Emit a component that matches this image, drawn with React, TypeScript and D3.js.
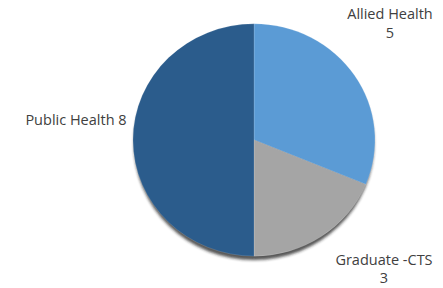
import React from "react";
import { pie, arc, PieArcDatum } from "d3";

const categories = ["Allied Health", "Graduate -CTS", "Public Health"];
const values = [5, 3, 8];
const colors = ["#5B9BD5", "#A5A5A5", "#2B5C8C"];

interface Slice {
  name: string;
  value: number;
  color: string;
}

const data: Slice[] = categories.map((c, i) => ({ name: c, value: values[i], color: colors[i] }));

const W = 443;
const H = 288;
const cx = 254;
const cy = 140;
const r = 121;

export default function App() {
  const arcs = pie<Slice>().sort(null).value((d) => d.value)(data);
  const arcGen = arc<PieArcDatum<Slice>>().innerRadius(0).outerRadius(r);
  const font = "'Open Sans', sans-serif";

  return (
    <svg width={W} height={H} style={{ position: "absolute", left: 0, top: 0 }}>
      <defs>
        <filter id="shadow" x="-20%" y="-20%" width="140%" height="140%">
          <feGaussianBlur stdDeviation="1.5" />
        </filter>
      </defs>
      <g transform={`translate(${cx},${cy}) scale(1,0.96)`}>
        <ellipse cx={0} cy={4} rx={r - 1} ry={r} fill="#1a1a1a" opacity={0.75} filter="url(#shadow)" />
        {arcs.map((a, i) => (
          <path key={i} d={arcGen(a) ?? ""} fill={a.data.color} stroke="#ffffff" strokeOpacity={0.25} strokeWidth={0.6} />
        ))}
      </g>
      <g fontFamily={font} fontSize={14.5} fill="#404040" textAnchor="middle">
        <text x={390} y={19}>Allied Health</text>
        <text x={390} y={38}>5</text>
        <text x={384} y={265}>Graduate -CTS</text>
        <text x={384} y={283}>3</text>
        <text x={76} y={125}>Public Health 8</text>
      </g>
    </svg>
  );
}
